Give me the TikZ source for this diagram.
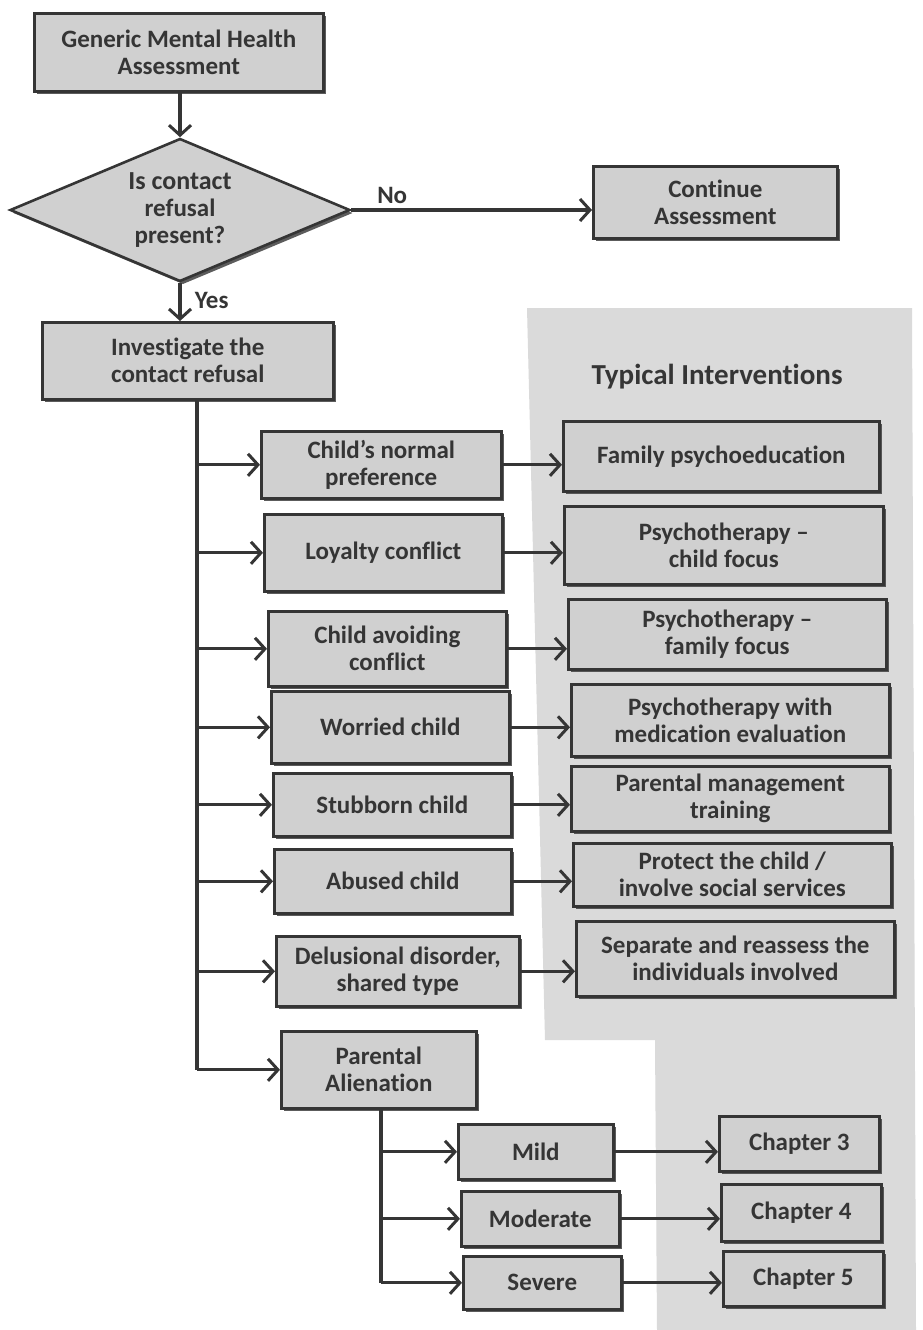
\documentclass[tikz,border=0pt]{standalone}
\usepackage{fontspec}
\setmainfont{Carlito}[Ligatures={NoCommon}]
\usetikzlibrary{arrows.meta,shapes.geometric,shadows}
\definecolor{ink}{HTML}{353535}
\definecolor{boxfill}{HTML}{D0D0D0}
\definecolor{panelfill}{HTML}{DADADA}
\tikzset{
  x=1pt,y=-1pt,
  every node/.style={font=\fontsize{25}{27}\selectfont\bfseries, text=ink},
  box/.style={draw=ink, line width=2.6pt, fill=boxfill, anchor=north west, align=center, inner sep=1pt,
    drop shadow={shadow xshift=3pt, shadow yshift=-3pt, opacity=0.85, fill=black!75}},
  conn/.style={draw=ink, line width=3.2pt, -{Straight Barb[length=10pt,width=22pt,line width=3pt]}},
  plain/.style={draw=ink, line width=3.2pt},
}
\newcommand{\bx}[6]{\node[box, minimum width=#4-#2, minimum height=#5-#3] (#1) at (#2,#3) {#6};}
\begin{document}
\begin{tikzpicture}
\useasboundingbox[fill=white] (0,0) rectangle (923,1330);
% panel
\fill[panelfill] (527,308) -- (912,308) -- (916,1330) -- (657,1330) -- (655,1040) -- (545,1040) -- cycle;
\node (title) at (717,377) {\fontsize{29}{32}\selectfont Typical Interventions};

% top part
\bx{gen}{33}{12}{322}{90}{Generic Mental Health\\Assessment}
\node[diamond, draw=ink, line width=2.6pt, fill=boxfill, aspect=2.38, inner sep=0pt,
  minimum width=340pt, minimum height=143pt, align=center,
  drop shadow={shadow xshift=3pt, shadow yshift=-3pt, opacity=0.85, fill=black!75}] (dec) at (180,210)
  {\fontsize{26}{30}\selectfont Is contact\\refusal\\present?};
\bx{cont}{592}{165}{836}{237}{Continue\\Assessment}
\bx{inv}{41}{321}{332}{398}{Investigate the\\contact refusal}

\draw[conn] (gen.south -| dec.north) -- (dec.north);
\draw[conn] (dec.east) -- node[pos=0.17, above=1pt] (no) {No} (dec.east -| cont.west);
\draw[conn] (dec.south) -- node[pos=0.45, right=10pt] (yes) {Yes} (dec.south |- inv.north);

% branches
\bx{b1}{260}{430}{500}{497}{Child's normal\\preference}
\bx{b2}{263}{513}{501}{590}{Loyalty conflict}
\bx{b3}{267}{610}{505}{685}{Child avoiding\\conflict}
\bx{b4}{270}{690}{508}{762}{Worried child}
\bx{b5}{272}{772}{510}{835}{Stubborn child}
\bx{b6}{273}{848}{510}{912}{Abused child}
\bx{b7}{275}{935}{518}{1005}{Delusional disorder,\\shared type}
\bx{b8}{280}{1030}{475}{1107}{Parental\\Alienation}

% interventions
\bx{i1}{562}{420}{878}{490}{Family psychoeducation}
\bx{i2}{563}{505}{882}{583}{Psychotherapy --\\child focus}
\bx{i3}{567}{598}{885}{668}{Psychotherapy --\\family focus}
\bx{i4}{570}{683}{888}{755}{Psychotherapy with\\medication evaluation}
\bx{i5}{570}{765}{888}{830}{Parental management\\training}
\bx{i6}{572}{842}{890}{905}{Protect the child /\\involve social services}
\bx{i7}{575}{920}{893}{995}{Separate and reassess the\\individuals involved}

% severity
\bx{s1}{457}{1123}{612}{1178}{Mild}
\bx{s2}{460}{1190}{618}{1245}{Moderate}
\bx{s3}{462}{1255}{620}{1308}{Severe}
\bx{c1}{718}{1115}{878}{1170}{Chapter 3}
\bx{c2}{720}{1183}{880}{1240}{Chapter 4}
\bx{c3}{722}{1250}{882}{1305}{Chapter 5}

% trunk
\coordinate (tk) at (197,0);
\draw[plain] (inv.south -| tk) -- (tk |- b8.west);
\foreach \b in {b1,b2,b3,b4,b5,b6,b7,b8}{
  \draw[conn] (tk |- \b.west) -- (\b.west);
}
\foreach \b/\i in {b1/i1,b2/i2,b3/i3,b4/i4,b5/i5,b6/i6,b7/i7}{
  \draw[conn] (\b.east) -- (\b.east -| \i.west);
}
% sub trunk
\coordinate (st) at (381,0);
\draw[plain] (b8.south -| st) -- (st |- s3.west);
\foreach \s in {s1,s2,s3}{
  \draw[conn] (st |- \s.west) -- (\s.west);
}
\foreach \s/\c in {s1/c1,s2/c2,s3/c3}{
  \draw[conn] (\s.east) -- (\s.east -| \c.west);
}
\end{tikzpicture}
\end{document}
